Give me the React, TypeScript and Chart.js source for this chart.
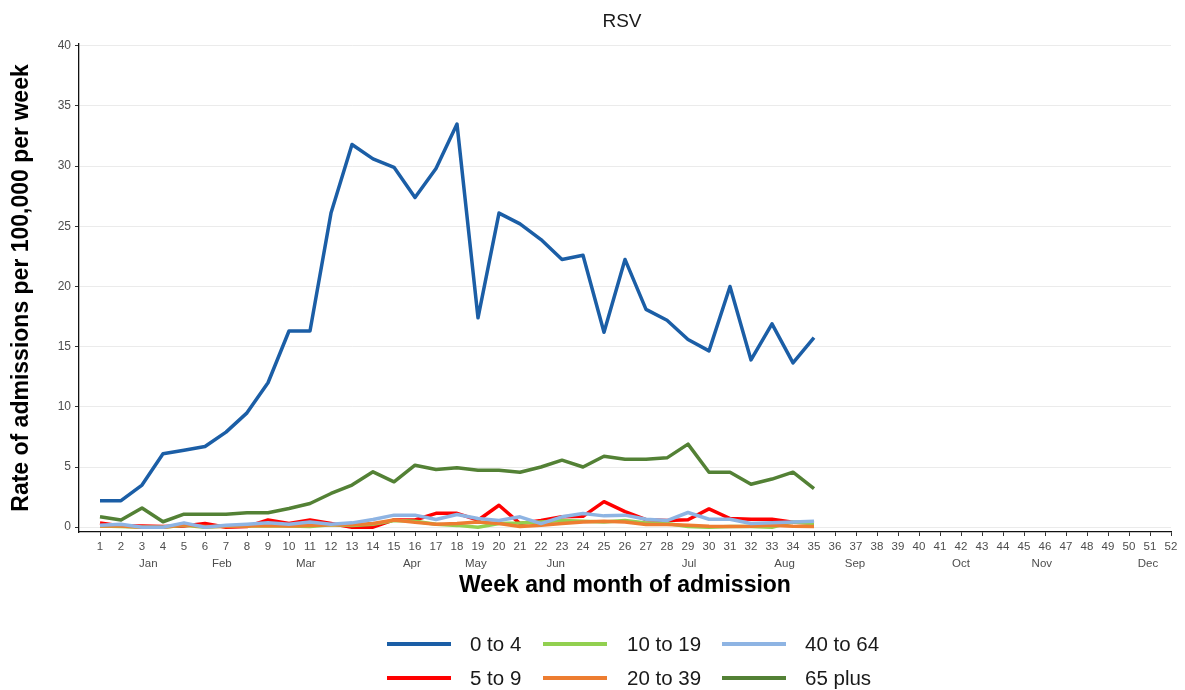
import React, { useEffect, useRef } from "react";
import { Chart, registerables } from "chart.js";

Chart.register(...registerables);

// ---------- data ----------
const CHART_TITLE = "RSV";
const Y_TITLE = "Rate of admissions per 100,000 per week";
const X_TITLE = "Week and month of admission";

const WEEK_TICKS = [
  1, 2, 3, 4, 5, 6, 7, 8, 9, 10, 11, 12, 13, 14, 15, 16, 17, 18, 19, 20, 21, 22, 23, 24, 25, 26,
  27, 28, 29, 30, 31, 32, 33, 34, 35, 36, 37, 38, 39, 40, 41, 42, 43, 44, 45, 46, 47, 48, 49, 50,
  51, 52,
];
const Y_TICKS = [0, 5, 10, 15, 20, 25, 30, 35, 40];

const MONTH_LABELS = ["Jan", "Feb", "Mar", "Apr", "May", "Jun", "Jul", "Aug", "Sep", "Oct", "Nov", "Dec"];
const MONTH_POSITIONS = [3.3, 6.8, 10.8, 15.85, 18.9, 22.7, 29.05, 33.6, 36.95, 42.0, 45.85, 50.9];

const DATA_WEEKS = [
  1, 2, 3, 4, 5, 6, 7, 8, 9, 10, 11, 12, 13, 14, 15, 16, 17, 18, 19, 20, 21, 22, 23, 24, 25, 26,
  27, 28, 29, 30, 31, 32, 33, 34, 35,
];

const SERIES_NAMES = ["0 to 4", "5 to 9", "10 to 19", "20 to 39", "40 to 64", "65 plus"];
const SERIES_COLORS = ["#1b5ea6", "#ff0000", "#92d050", "#ed7d31", "#8eb4e3", "#538135"];

const AGE_0_4 = [
  2.2, 2.2, 3.5, 6.1, 6.4, 6.7, 7.9, 9.5, 12.0, 16.3, 16.3, 26.1, 31.8, 30.6, 29.9, 27.4, 29.8,
  33.5, 17.4, 26.1, 25.2, 23.9, 22.25, 22.6, 16.2, 22.25, 18.1, 17.2, 15.6, 14.65, 20.0, 13.9,
  16.9, 13.65, 15.75,
];
const AGE_5_9 = [
  0.35, 0.1, 0.1, 0.05, 0.1, 0.3, 0.0, 0.05, 0.6, 0.3, 0.6, 0.3, 0.0, 0.0, 0.6, 0.6, 1.15, 1.15,
  0.58, 1.82, 0.3, 0.55, 0.86, 0.9, 2.12, 1.3, 0.62, 0.55, 0.62, 1.52, 0.72, 0.66, 0.66, 0.42,
  0.35,
];
const AGE_10_19 = [
  0.1, 0.05, 0.0, 0.0, 0.15, 0.0, 0.1, 0.1, 0.1, 0.1, 0.05, 0.2, 0.15, 0.25, 0.55, 0.5, 0.25,
  0.15, 0.0, 0.3, 0.35, 0.44, 0.55, 0.5, 0.44, 0.55, 0.35, 0.3, 0.05, 0.0, 0.05, 0.05, 0.0, 0.44,
  0.3,
];
const AGE_20_39 = [
  0.1, 0.1, 0.0, 0.0, 0.2, 0.05, 0.05, 0.1, 0.15, 0.1, 0.15, 0.2, 0.2, 0.3, 0.6, 0.4, 0.25, 0.3,
  0.44, 0.3, 0.05, 0.16, 0.3, 0.44, 0.5, 0.44, 0.22, 0.22, 0.16, 0.08, 0.05, 0.08, 0.16, 0.08,
  0.05,
];
const AGE_40_64 = [
  0.17, 0.25, 0.0, 0.0, 0.36, 0.0, 0.17, 0.25, 0.36, 0.25, 0.44, 0.25, 0.36, 0.64, 1.0, 1.0, 0.64,
  1.05, 0.72, 0.55, 0.86, 0.3, 0.86, 1.14, 0.94, 1.0, 0.66, 0.55, 1.22, 0.66, 0.66, 0.3, 0.36,
  0.44, 0.5,
];
const AGE_65_PLUS = [
  0.86, 0.6, 1.6, 0.45, 1.08, 1.08, 1.08, 1.19, 1.2, 1.55, 1.97, 2.8, 3.5, 4.6, 3.77, 5.15, 4.8,
  4.93, 4.74, 4.74, 4.57, 5.0, 5.57, 5.0, 5.9, 5.65, 5.65, 5.76, 6.9, 4.57, 4.57, 3.57, 4.0, 4.57,
  3.2,
];

const SERIES_VALUES = [AGE_0_4, AGE_5_9, AGE_10_19, AGE_20_39, AGE_40_64, AGE_65_PLUS];

// ---------- styling ----------
const FONT = "'Liberation Sans', Arial, sans-serif";
const TICK_COLOR = "#4d4d4d";
const TEXT_COLOR = "#1a1a1a";

const titlePlugin = {
  id: "rsvTitle",
  afterDraw(chart: any) {
    const { ctx, chartArea } = chart;
    ctx.save();
    ctx.font = `19px ${FONT}`;
    ctx.fillStyle = TEXT_COLOR;
    ctx.textAlign = "center";
    ctx.textBaseline = "middle";
    ctx.fillText(CHART_TITLE, (chartArea.left + chartArea.right) / 2 - 3, 22);
    ctx.restore();
  },
};

const legendPlugin = {
  id: "gridLegend",
  afterDraw(chart: any) {
    const { ctx } = chart;
    const lineStarts = [387, 543, 722];
    const lineLen = 64;
    const textStarts = [470, 627, 805];
    const rowYs = [644, 678];
    ctx.save();
    ctx.font = `20.5px ${FONT}`;
    ctx.textAlign = "left";
    ctx.textBaseline = "middle";
    chart.data.datasets.forEach((ds: any, i: number) => {
      const col = Math.floor(i / 2);
      const row = i % 2;
      const y = rowYs[row];
      ctx.strokeStyle = ds.borderColor;
      ctx.lineWidth = 4;
      ctx.lineCap = "butt";
      ctx.beginPath();
      ctx.moveTo(lineStarts[col], y);
      ctx.lineTo(lineStarts[col] + lineLen, y);
      ctx.stroke();
      ctx.fillStyle = TEXT_COLOR;
      ctx.fillText(ds.label, textStarts[col], y + 1);
    });
    ctx.restore();
  },
};

export default function App() {
  const canvasRef = useRef<HTMLCanvasElement | null>(null);

  useEffect(() => {
    const canvas = canvasRef.current;
    if (!canvas) return;

    const datasets = SERIES_NAMES.map((name, si) => ({
      label: name,
      data: DATA_WEEKS.map((w, i) => ({ x: w, y: SERIES_VALUES[si][i] })),
      borderColor: SERIES_COLORS[si],
      backgroundColor: SERIES_COLORS[si],
      borderWidth: 3.5,
      pointRadius: 0,
      tension: 0,
      fill: false,
      order: SERIES_NAMES.length - si,
    }));

    const chart = new Chart(canvas, {
      type: "line",
      data: { datasets },
      options: {
        responsive: false,
        animation: false,
        layout: { padding: { top: 44, right: 14, bottom: 90, left: 0 } },
        plugins: {
          legend: { display: false },
          title: { display: false },
          tooltip: { enabled: false },
        },
        elements: {
          line: { borderJoinStyle: "round", borderCapStyle: "butt" },
          point: { radius: 0 },
        },
        scales: {
          x: {
            type: "linear",
            position: "bottom",
            min: 0,
            max: 52,
            weight: 1,
            afterBuildTicks: (s: any) => {
              s.ticks = WEEK_TICKS.map((v) => ({ value: v }));
            },
            afterFit: (s: any) => {
              s.height = 23;
            },
            grid: {
              display: true,
              drawOnChartArea: false,
              drawTicks: true,
              tickLength: 4,
              tickColor: "#333333",
              tickWidth: 1,
            },
            border: { display: true, color: "#111111", width: 1.3 },
            ticks: {
              autoSkip: false,
              maxRotation: 0,
              minRotation: 0,
              padding: 4,
              color: TICK_COLOR,
              font: { family: FONT, size: 11.5 },
              callback: (v: any) => String(v),
            },
          },
          month: {
            type: "linear",
            axis: "x",
            position: "bottom",
            min: 0,
            max: 52,
            weight: 2,
            afterBuildTicks: (s: any) => {
              s.ticks = MONTH_POSITIONS.map((v) => ({ value: v }));
            },
            afterFit: (s: any) => {
              s.height = 45;
            },
            grid: { display: false },
            border: { display: false },
            ticks: {
              autoSkip: false,
              maxRotation: 0,
              minRotation: 0,
              padding: -6,
              color: TICK_COLOR,
              font: { family: FONT, size: 11.5 },
              callback: (_v: any, i: number) => MONTH_LABELS[i],
            },
            title: {
              display: true,
              text: X_TITLE,
              color: "#000000",
              font: { family: FONT, size: 23, weight: "bold" },
              padding: { top: 0, bottom: 1 },
            },
          },
          y: {
            type: "linear",
            min: -0.4,
            max: 40.15,
            afterBuildTicks: (s: any) => {
              s.ticks = Y_TICKS.map((v) => ({ value: v }));
            },
            afterFit: (s: any) => {
              s.width = 79;
            },
            grid: {
              display: true,
              drawOnChartArea: true,
              color: "#ebebeb",
              lineWidth: 1,
              drawTicks: true,
              tickLength: 4,
              tickColor: "#333333",
              tickWidth: 1,
            },
            border: { display: true, color: "#111111", width: 1.3 },
            ticks: {
              padding: 4,
              color: TICK_COLOR,
              font: { family: FONT, size: 12 },
              callback: (v: any) => String(v),
            },
            title: {
              display: true,
              text: Y_TITLE,
              color: "#000000",
              font: { family: FONT, size: 23, weight: "bold" },
              padding: { top: 8, bottom: 0 },
            },
          },
        },
      } as any,
      plugins: [titlePlugin, legendPlugin],
    });

    return () => {
      chart.destroy();
    };
  }, []);

  return (
    <div style={{ position: "absolute", left: 0, top: 0, width: 1185, height: 690, background: "#ffffff" }}>
      <canvas ref={canvasRef} width={1185} height={690} style={{ display: "block" }} />
    </div>
  );
}
